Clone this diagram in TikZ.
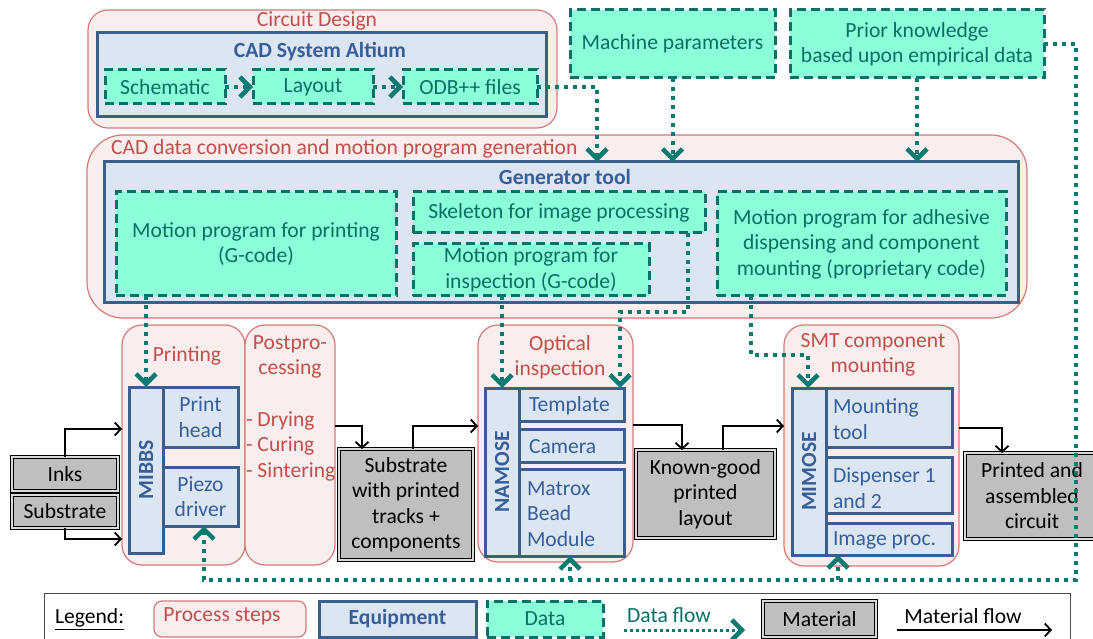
\documentclass[tikz,border=0pt]{standalone}
\usepackage{fontspec}
\setmainfont{Carlito}
\usetikzlibrary{arrows.meta}
\definecolor{procfill}{HTML}{F9EDED}
\definecolor{procdraw}{HTML}{D47A78}
\definecolor{proctext}{HTML}{C0504D}
\definecolor{eqfill}{HTML}{DCE6F2}
\definecolor{eqdraw}{HTML}{3A5F8F}
\definecolor{eqtext}{HTML}{365F99}
\definecolor{datafill}{HTML}{8AFFDA}
\definecolor{datadraw}{HTML}{0B7068}
\definecolor{datatext}{HTML}{0B6E66}
\definecolor{flowc}{HTML}{0B7A70}
\definecolor{matfill}{HTML}{BFBFBF}
\newcommand\myfs{\fontsize{21.6}{25.5}\selectfont}
\begin{document}
\begin{tikzpicture}[x=1pt,y=-1pt,
 every node/.style={font=\myfs, inner sep=0pt, outer sep=0pt},
 wh/.style 2 args={minimum width=#1, minimum height=#2},
 proc/.style={draw=procdraw, fill=procfill, line width=1.2pt, rounded corners=20pt, anchor=north west},
 equip/.style={draw=eqdraw, fill=eqfill, line width=3pt, anchor=north west},
 data/.style={draw=datadraw, fill=datafill, line width=3pt, dash pattern=on 9pt off 5pt, anchor=north west, text=datatext, align=center},
 mat/.style={draw=black, double=black!15, double distance=1.5pt, line width=1pt, fill=matfill, align=center, anchor=north west},
 ptxt/.style={text=proctext},
 eqt/.style={text=eqtext, font=\myfs\bfseries},
 eqs/.style={text=eqtext},
 dflow/.style={draw=flowc, line width=4pt, dash pattern=on 4pt off 5pt, -{Straight Barb[length=10pt,width=20pt,line width=4.5pt]}},
 mflow/.style={draw=black, line width=1.8pt, -{Straight Barb[length=6pt,width=13pt,line width=1.8pt]}}
]
\useasboundingbox (0,0) rectangle (1093,639);
% ---------- top: circuit design
\node[proc, wh={469pt}{118pt}] (cd) at (88,10) {};
\node[equip, wh={449pt}{84pt}] (alt) at (97,33) {};
\node[data, wh={120pt}{34pt}] (sch) at (105,70) {Schematic};
\node[data, wh={120pt}{34pt}] (lay) at (253,70) {Layout};
\node[data, wh={134pt}{34pt}] (odb) at (403,70) {ODB++ files};
\node[ptxt] (tcd) at (317,21) {Circuit Design};
\node[eqt] (talt) at (320,52) {CAD System Altium};
\node[data, wh={205pt}{68pt}] (mach) at (570,10) {Machine parameters};
\node[data, wh={254pt}{68pt}] (prior) at (790,10) {Prior knowledge\\based upon empirical data};
% ---------- conversion
\node[proc, rounded corners=36pt, wh={940pt}{183pt}] (conv) at (87,135) {};
\node[equip, wh={914pt}{141pt}] (gen) at (104,162) {};
\node[ptxt, anchor=west] (tconv) at (111,149) {CAD data conversion and motion program generation};
\node[eqt] (tgen) at (565,177) {Generator tool};
\node[data, wh={280pt}{104pt}] (mpp) at (116,192) {Motion program for printing\\(G-code)};
\node[data, wh={292pt}{41pt}] (skel) at (413,192) {Skeleton for image processing};
\node[data, wh={236pt}{52pt}] (mpi) at (413,244) {Motion program for\\inspection (G-code)};
\node[data, wh={289pt}{104pt}] (mpa) at (717,192) {Motion program for adhesive\\dispensing and component\\mounting (proprietary code)};
% ---------- printing
\node[proc, wh={123pt}{240pt}] (printing) at (122,325) {};
\node[proc, wh={90pt}{240pt}] (post) at (245,325) {};
\node[ptxt] (tpr) at (187,356) {Printing};
\node[ptxt, align=center] (tpo) at (290,357) {Postpro-\\cessing};
\node[ptxt, anchor=west, align=left] (tdry) at (246,446) {- Drying\\- Curing\\- Sintering};
\node[equip, wh={34pt}{166pt}] (mibbs) at (129,387) {};
\node[equip, wh={75pt}{60pt}, eqs, align=center] (phead) at (163,387) {Print\\head};
\node[equip, wh={75pt}{59pt}, eqs, align=center] (piezo) at (163,467) {Piezo\\driver};
\node[eqt, rotate=90] (tmibbs) at (mibbs.center) {MIBBS};
\node[mat, wh={106pt}{34pt}] (inks) at (12,457) {Inks};
\node[mat, wh={106pt}{33pt}] (subs) at (12,495) {Substrate};
\node[mat, wh={134pt}{111pt}] (sptc) at (339,449) {Substrate\\with printed\\tracks +\\components};
% ---------- optical inspection
\node[proc, wh={155pt}{237pt}] (optical) at (478,325) {};
\node[ptxt, align=center] (top) at (560,357) {Optical\\inspection};
\node[equip, wh={34pt}{168pt}] (namose) at (485,388) {};
\node[equip, wh={105pt}{33pt}] (templ) at (519,388) {};
\node[equip, wh={105pt}{33pt}] (cam) at (519,429) {};
\node[equip, wh={105pt}{87pt}] (matrox) at (519,469) {};
\node[eqt, rotate=90] (tnamose) at (namose.center) {NAMOSE};
\node[eqs, anchor=west] (ttempl) at (529,406) {Template};
\node[eqs, anchor=west] (tcam) at (529,447) {Camera};
\node[eqs, anchor=west, align=left] (tmatrox) at (527,514) {Matrox\\Bead\\Module};
\node[mat, wh={139pt}{88pt}] (kg) at (636,450) {Known-good\\printed\\layout};
% ---------- SMT
\node[proc, wh={175pt}{241pt}] (smt) at (784,325) {};
\node[ptxt, align=center] (tsmt) at (873,355) {SMT component\\mounting};
\node[equip, wh={34pt}{167pt}] (mimose) at (792,388) {};
\node[equip, wh={126pt}{59pt}] (mtool) at (826,388) {};
\node[equip, wh={126pt}{56pt}] (disp) at (826,457) {};
\node[equip, wh={126pt}{32pt}] (imgp) at (826,523) {};
\node[eqt, rotate=90] (tmimose) at (mimose.center) {MIMOSE};
\node[eqs, anchor=west, align=left] (tmtool) at (833,419) {Mounting\\tool};
\node[eqs, anchor=west, align=left] (tdisp) at (833,488) {Dispenser 1\\and 2};
\node[eqs, anchor=west] (timgp) at (833,540) {Image proc.};
\node[mat, wh={134pt}{86pt}] (pac) at (965,453) {Printed and\\assembled\\circuit};
% ---------- material flows
\draw[mflow] (inks.north) |- (printing.west |- 0,429);
\draw[mflow] (subs.south) |- (printing.west |- 0,539);
\draw[mflow] (post.east |- 0,426) -| (362,0 |- sptc.north);
\draw[mflow] (413,0 |- sptc.north) |- (optical.west |- 0,426);
\draw[mflow] (optical.east |- 0,425) -| (682,0 |- kg.north);
\draw[mflow] (723,0 |- kg.north) |- (smt.west |- 0,426);
\draw[mflow] (smt.east |- 0,428) -| (1002,0 |- pac.north);
% ---------- data flows
\draw[dflow] (sch.east) -- (lay.west);
\draw[dflow] (lay.east) -- (odb.west);
\draw[dflow] (odb.east) -| (597,0 |- gen.north);
\draw[dflow] (mach.south) -- (mach.south |- gen.north);
\draw[dflow] (prior.south) -- (prior.south |- gen.north);
\draw[dflow] (146,0 |- mpp.south) -- (146,0 |- mibbs.north);
\draw[dflow] (namose.north |- mpi.south) -- (namose.north);
\coordinate (sk) at (620,312);
\draw[dflow] (688,0 |- skel.south) |- (sk) -- (sk |- templ.north);
\coordinate (ad) at (808,355);
\draw[dflow] (751,0 |- mpa.south) |- (ad) -- (ad |- mimose.north);
\coordinate (fr) at (1076,580);
\coordinate (fl) at (204,580);
\coordinate (fm) at (570,580);
\coordinate (fs) at (838,580);
\draw[dflow] (prior.east) -| (fr) -- (fl) -- (fl |- piezo.south);
\draw[dflow] (fm) -- (fm |- matrox.south);
\draw[dflow] (fs) -- (fs |- imgp.south);
% ---------- legend
\node[draw=black!70, line width=1pt, anchor=north west, wh={1026pt}{60pt}] (leg) at (44,593) {};
\node[anchor=west] (legt) at (55,619) {\underline{Legend:}};
\node[proc, rounded corners=8pt, wh={152pt}{36pt}] (lproc) at (154,601) {};
\node[ptxt] (lproct) at (222,616) {Process steps};
\node[equip, wh={157pt}{36pt}, eqt] (lequip) at (319,601) {Equipment};
\node[data, wh={116pt}{36pt}] (ldata) at (487,601) {Data};
\node[text=datatext] (ldft) at (669,615) {Data flow};
\coordinate (ld1) at (624,630);
\coordinate (ld2) at (745,630);
\draw[dflow, line width=3pt, dash pattern=on 3pt off 3pt] (ld1) -- (ld2);
\node[mat, wh={113pt}{36pt}] (lmat) at (763,601) {Material};
\node (lmft) at (963,616) {Material flow};
\coordinate (lm1) at (897,630);
\coordinate (lm2) at (1052,630);
\draw[mflow] (lm1) -- (lm2);
\end{tikzpicture}
\end{document}
